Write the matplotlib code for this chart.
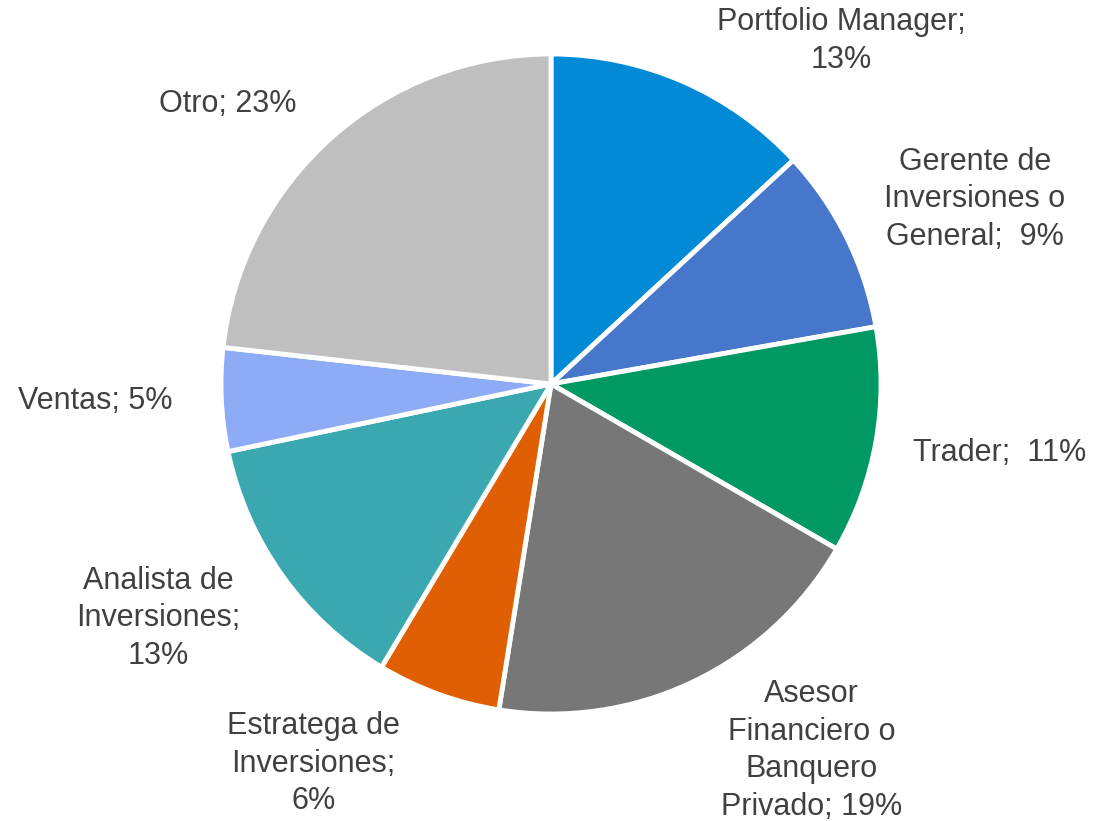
import matplotlib
matplotlib.use('Agg')
import matplotlib.pyplot as plt

plt.rcParams['font.family'] = ['Liberation Sans', 'DejaVu Sans']

# datos
categorias = ["Portfolio Manager;\n13%",
              "Gerente de\nInversiones o\nGeneral;  9%",
              "Trader;  11%",
              "Asesor\nFinanciero o\nBanquero\nPrivado; 19%",
              "Estratega de\nInversiones;\n6%",
              "Analista de\nInversiones;\n13%",
              "Ventas; 5%",
              "Otro; 23%"]
valores = [13, 9, 11, 19, 6, 13, 5, 23]
colores = ["#028AD6", "#4777CB", "#019963", "#777777",
           "#E05F02", "#3BA7B1", "#8EABF6", "#BFBFBF"]

# posiciones de las etiquetas (en unidades del radio)
pos_etiquetas = [(0.88, 1.04), (1.285, 0.56), (1.36, -0.21), (0.79, -1.11),
                 (-0.72, -1.15), (-1.19, -0.71), (-1.38, -0.05), (-0.98, 0.85)]

fig = plt.figure(figsize=(10.94, 8.21), dpi=100)
ax = fig.add_axes([0, 0, 1, 1])

ax.pie(valores, colors=colores, startangle=90, counterclock=False, radius=1,
       wedgeprops=dict(edgecolor='white', linewidth=3.5))

for txt, (x, y) in zip(categorias, pos_etiquetas):
    ax.text(x, y, txt, ha='center', va='center', fontsize=22,
            color='#404040', linespacing=1.33)

ax.set_xlim(-551 / 330, (1094 - 551) / 330)
ax.set_ylim(-437 / 330, 384 / 330)
ax.set_aspect('auto')
ax.axis('off')

plt.savefig('out.png', dpi=100)
